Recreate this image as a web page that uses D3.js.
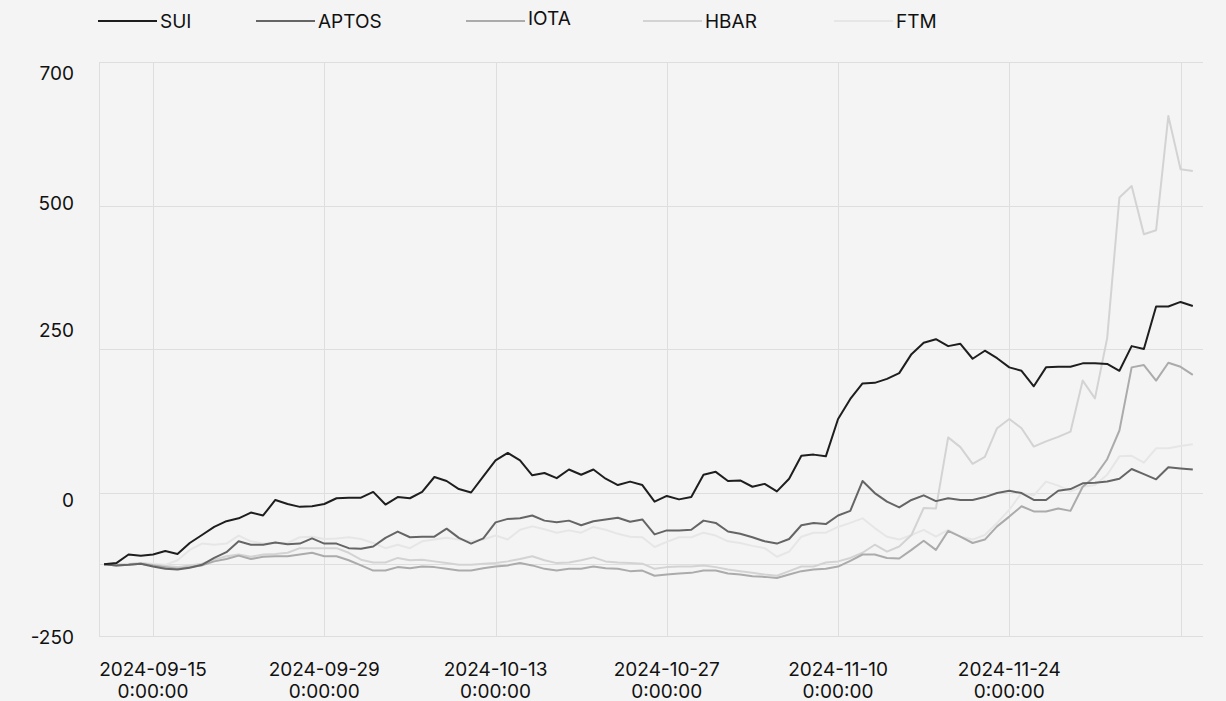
<!DOCTYPE html>
<head>
    <meta charset="utf-8">
    <script src="https://d3js.org/d3.v7.min.js"></script>
    <style>
        body { margin: 0; background: #f4f4f4; }
        text { font-family: Inter, "Noto Sans", sans-serif; fill: #111; }
    </style>
</head>
<body>
    <svg id="chart" width="1226" height="701"></svg>
    <script>
        // series names and colours (legend order)
        var names = ["SUI", "APTOS", "IOTA", "HBAR", "FTM"];
        var colors = ["#1e1e1e", "#656565", "#ababab", "#d3d3d3", "#e6e6e6"];

        // daily values, 2024-09-11 .. 2024-12-09
        var startDate = new Date(2024, 8, 11);
        var sui = [-125, -123, -108, -110, -108, -102, -107, -88, -74, -60, -50, -45, -35, -40, -13, -20, -25, -24, -20, -10,
            -9, -9, 1, -21, -8, -10, 1, 27, 20, 6, 0, 28, 56, 69, 56, 30, 34, 25, 40, 31,
            40, 24, 13, 19, 13, -16, -6, -12, -8, 31, 36, 20, 21, 10, 15, 2, 24, 64, 66, 63,
            128, 163, 190, 191, 198, 208, 241, 261, 267, 255, 259, 233, 247, 234, 218, 212, 185, 218, 219, 219,
            225, 225, 224, 212, 255, 250, 324, 324, 332, 325];
        var aptos = [-125, -127, -126, -124, -129, -133, -134, -131, -126, -114, -104, -85, -91, -91, -87, -90, -89, -80, -89, -89,
            -97, -98, -94, -79, -68, -78, -77, -77, -63, -79, -89, -80, -52, -46, -45, -40, -49, -52, -49, -57,
            -50, -47, -44, -51, -47, -73, -66, -66, -65, -49, -53, -68, -72, -78, -85, -89, -81, -57, -53, -55,
            -40, -32, 20, -1, -16, -26, -13, -5, -15, -10, -13, -13, -8, -1, 3, -1, -13, -13, 3, 6,
            16, 17, 19, 24, 41, 32, 23, 44, 42, 40];
        var iota = [-125, -127, -126, -124, -127, -130, -133, -130, -127, -120, -116, -110, -116, -112, -111, -111, -108, -105, -111, -111,
            -118, -127, -136, -136, -130, -132, -129, -130, -133, -136, -136, -132, -129, -127, -123, -127, -133, -136, -133, -133,
            -129, -132, -133, -137, -136, -145, -143, -141, -140, -136, -136, -141, -143, -146, -147, -149, -143, -137, -134, -133,
            -129, -119, -108, -108, -114, -115, -100, -84, -100, -67, -77, -88, -82, -59, -42, -24, -33, -33, -28, -32,
            10, 28, 58, 108, 218, 222, 195, 226, 219, 205];
        var hbar = [-125, -126, -125, -123, -126, -128, -130, -127, -124, -117, -111, -108, -112, -108, -107, -105, -97, -97, -97, -97,
            -105, -117, -122, -122, -114, -118, -117, -120, -123, -126, -126, -124, -123, -120, -116, -111, -118, -123, -122, -118,
            -113, -120, -122, -123, -124, -133, -130, -129, -129, -127, -130, -134, -137, -140, -143, -145, -137, -129, -129, -122,
            -120, -114, -105, -91, -103, -94, -74, -27, -28, 96, 79, 50, 62, 112, 128, 112, 80, 89, 97, 106,
            195, 164, 269, 514, 534, 450, 457, 656, 563, 560];
        var ftm = [-125, -125, -124, -123, -124, -126, -118, -100, -89, -91, -89, -75, -85, -89, -88, -88, -78, -77, -81, -80,
            -78, -81, -88, -97, -91, -97, -85, -82, -79, -82, -85, -82, -75, -82, -65, -59, -64, -70, -66, -70,
            -60, -65, -72, -77, -78, -95, -86, -78, -78, -70, -75, -85, -88, -93, -97, -112, -103, -77, -70, -70,
            -60, -53, -45, -62, -77, -82, -74, -65, -77, -65, -77, -82, -74, -53, -30, -1, -5, 19, 12, 2,
            10, 13, 31, 63, 64, 52, 77, 77, 81, 84];

        // axis ticks
        var xTickDates = ["2024-09-15", "2024-09-29", "2024-10-13", "2024-10-27", "2024-11-10", "2024-11-24", "2024-12-08"];
        var xTickLabels = ["2024-09-15", "2024-09-29", "2024-10-13", "2024-10-27", "2024-11-10", "2024-11-24", ""];
        var yGridValues = [-250, -125, 0, 250, 500, 750];
        var yTickLabels = ["700", "500", "250", "0", "-250"];
        var yTickAt = [731, 504, 282, -13, -253];

        var svg = d3.select("#chart");
        var plotLeft = 99, plotRight = 1203, plotTop = 62, plotBottom = 636;

        var parse = d3.timeParse("%Y-%m-%d");
        var x = d3.scaleTime()
            .domain([new Date(2024, 8, 10, 14), new Date(2024, 11, 9, 20)])
            .range([plotLeft, plotRight]);
        var y = d3.scaleLinear()
            .domain([-250, 750])
            .range([plotBottom, plotTop]);

        var series = [sui, aptos, iota, hbar, ftm].map(function (vals, k) {
            return {
                name: names[k],
                color: colors[k],
                values: vals.map(function (v, i) { return { date: d3.timeDay.offset(startDate, i), value: v }; })
            };
        });

        // grid
        var grid = svg.append("g").attr("stroke", "#dedede").attr("stroke-width", 1);
        grid.selectAll(".h").data(yGridValues).enter().append("line")
            .attr("x1", plotLeft).attr("x2", plotRight)
            .attr("y1", function (d) { return Math.round(y(d)) + 0.5; })
            .attr("y2", function (d) { return Math.round(y(d)) + 0.5; });
        grid.selectAll(".v").data(xTickDates).enter().append("line")
            .attr("y1", plotTop).attr("y2", plotBottom)
            .attr("x1", function (d) { return Math.round(x(parse(d))) + 0.5; })
            .attr("x2", function (d) { return Math.round(x(parse(d))) + 0.5; });
        grid.append("line").attr("x1", plotLeft + 0.5).attr("x2", plotLeft + 0.5).attr("y1", plotTop).attr("y2", plotBottom);

        // y labels
        svg.append("g").selectAll("text").data(yTickLabels).enter().append("text")
            .attr("x", 74)
            .attr("y", function (d, i) { return y(yTickAt[i]); })
            .attr("dy", "0.35em")
            .attr("text-anchor", "end")
            .style("font-size", "19px")
            .text(function (d) { return d; });

        // x labels (two lines, date and time)
        var xl = svg.append("g").selectAll("text").data(xTickDates).enter().append("text")
            .attr("text-anchor", "middle")
            .style("font-size", "19px");
        xl.append("tspan").attr("x", function (d) { return x(parse(d)); }).attr("y", 676)
            .text(function (d, i) { return xTickLabels[i]; });
        xl.append("tspan").attr("x", function (d) { return x(parse(d)); }).attr("y", 698)
            .text(function (d, i) { return xTickLabels[i] ? "0:00:00" : ""; });

        // lines
        var line = d3.line()
            .x(function (d) { return x(d.date); })
            .y(function (d) { return y(d.value); });
        svg.append("g").selectAll("path").data(series.slice().reverse()).enter().append("path")
            .attr("d", function (d) { return line(d.values); })
            .attr("fill", "none")
            .attr("stroke", function (d) { return d.color; })
            .attr("stroke-width", 2)
            .attr("stroke-linejoin", "round");

        // legend
        var legendX = [98, 256, 466, 643, 834];
        var lg = svg.append("g").selectAll("g").data(series).enter().append("g")
            .attr("transform", function (d, i) { return "translate(" + legendX[i] + ",21)"; });
        lg.append("line").attr("x1", 0).attr("x2", 59).attr("y1", 0).attr("y2", 0)
            .attr("stroke", function (d) { return d.color; }).attr("stroke-width", 2);
        lg.append("text").attr("x", 62).attr("dy", "0.35em")
            .attr("y", function (d, i) { return i == 2 ? -3 : 0; })
            .style("font-size", "19px")
            .text(function (d) { return d.name; });
    </script>
</body>
